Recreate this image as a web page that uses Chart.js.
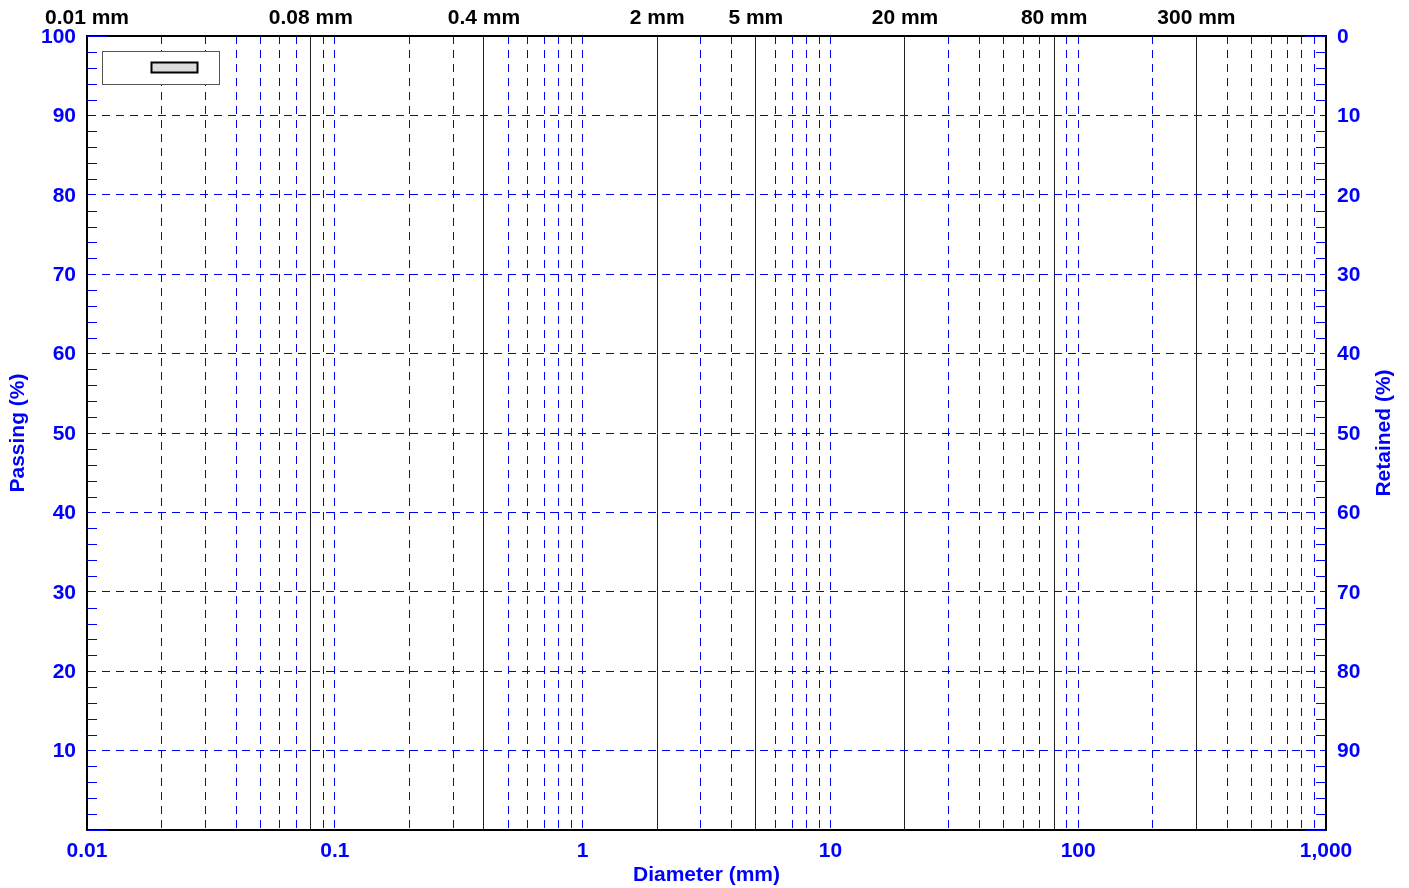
<!DOCTYPE html>
<html>
<head>
<meta charset="utf-8">
<script src="https://cdn.jsdelivr.net/npm/chart.js@4"></script>
<style>
  body { margin: 0; background: #fff; }
  #wrap { width: 1409px; height: 888px; }
</style>
</head>
<body>
<div id="wrap"><canvas id="grading"></canvas></div>
<script>
// sieve sizes marked on top (mm)
const sieveSizes = [0.01, 0.08, 0.4, 2, 5, 20, 80, 300];
const sieveLabels = ['0.01 mm', '0.08 mm', '0.4 mm', '2 mm', '5 mm', '20 mm', '80 mm', '300 mm'];
// decade labels on the diameter axis
const decades = [0.01, 0.1, 1, 10, 100, 1000];
const decadeLabels = ['0.01', '0.1', '1', '10', '100', '1,000'];
// grading curve (no samples plotted)
const diameters = [];
const passing = [];
const retainedTitle = 'Retained (%)';

const BLUE = '#0000ff';
const FONT = { family: 'Arial, "Liberation Sans", sans-serif', size: 21, weight: 'bold' };

// every 1..9 x decade line
let logTicks = [];
for (let d = 0; d < decades.length - 1; d++) {
    for (let k = 1; k <= 9; k++) logTicks.push(+(k * decades[d]).toPrecision(3));
}
logTicks.push(1000);

let pctTicks = [];
for (let v = 0; v <= 100; v += 2) pctTicks.push(v);

function isSieve(v) {
    return sieveSizes.some(s => Math.abs(s - v) / s < 1e-6);
}

// inward tick marks, legend box, right axis title (reads bottom-up)
const frame = {
    id: 'frame',
    afterDraw(chart) {
        const ctx = chart.ctx;
        const a = chart.chartArea;
        const y = chart.scales.y;
        ctx.save();
        ctx.strokeStyle = BLUE;
        ctx.lineWidth = 1;
        pctTicks.forEach(v => {
            const py = Math.round(y.getPixelForValue(v)) + 0.5;
            const len = (v === 0 || v === 100) ? 21 : (v % 10 === 0 ? 0 : 10);
            if (!len) return;
            ctx.beginPath();
            ctx.moveTo(a.left, py); ctx.lineTo(a.left + len, py);
            ctx.moveTo(a.right, py); ctx.lineTo(a.right - len, py);
            ctx.stroke();
        });

        // legend
        const ds = chart.data.datasets[0];
        const lx = a.left + 15.5, ly = a.top + 15.5;
        ctx.fillStyle = '#fff';
        ctx.fillRect(lx, ly, 117, 33);
        ctx.strokeStyle = '#555';
        ctx.lineWidth = 1;
        ctx.strokeRect(lx, ly, 117, 33);
        ctx.fillStyle = ds.backgroundColor;
        ctx.fillRect(lx + 49, ly + 11, 46, 10);
        ctx.strokeStyle = ds.borderColor;
        ctx.lineWidth = 2;
        ctx.strokeRect(lx + 49, ly + 11, 46, 10);

        // right title
        ctx.translate(a.right + 58, (a.top + a.bottom) / 2);
        ctx.rotate(-Math.PI / 2);
        ctx.fillStyle = BLUE;
        ctx.font = 'bold 21px Arial, "Liberation Sans", sans-serif';
        ctx.textAlign = 'center';
        ctx.textBaseline = 'middle';
        ctx.fillText(retainedTitle, 0, 0);
        ctx.restore();
    }
};

new Chart(document.getElementById('grading'), {
    type: 'scatter',
    data: {
        datasets: [{
            label: '',
            data: diameters.map((d, i) => ({ x: d, y: passing[i] })),
            backgroundColor: '#dcdcdc',
            borderColor: '#000',
            showLine: true,
            xAxisID: 'x',
            yAxisID: 'y'
        }]
    },
    options: {
        responsive: true,
        maintainAspectRatio: false,
        animation: false,
        layout: { padding: 0 },
        plugins: {
            legend: { display: false },
            tooltip: { enabled: false }
        },
        scales: {
            x: {
                type: 'logarithmic',
                position: 'bottom',
                min: 0.01,
                max: 1000,
                afterBuildTicks: s => { s.ticks = logTicks.map(v => ({ value: v })); },
                afterFit: s => { s.height = 58; },
                ticks: {
                    autoSkip: false,
                    maxRotation: 0,
                    padding: 9,
                    color: BLUE,
                    font: FONT,
                    callback: v => {
                        const i = decades.findIndex(d => Math.abs(d - v) / d < 1e-6);
                        return i >= 0 ? decadeLabels[i] : '';
                    }
                },
                grid: {
                    drawTicks: false,
                    color: c => isSieve(c.tick.value) ? 'transparent' : BLUE,
                    lineWidth: 1
                },
                border: { color: '#000', width: 2, dash: [8, 6] },
                title: {
                    display: true,
                    text: 'Diameter (mm)',
                    color: BLUE,
                    font: FONT,
                    padding: { top: 0, bottom: 0 }
                }
            },
            xTop: {
                type: 'logarithmic',
                position: 'top',
                min: 0.01,
                max: 1000,
                afterBuildTicks: s => { s.ticks = sieveSizes.map(v => ({ value: v })); },
                afterFit: s => { s.height = 36; },
                ticks: {
                    autoSkip: false,
                    maxRotation: 0,
                    padding: 5,
                    color: '#000',
                    font: FONT,
                    callback: (v, i) => sieveLabels[i]
                },
                grid: { drawTicks: false, color: '#222', lineWidth: 1 },
                border: { color: '#000', width: 2 }
            },
            y: {
                position: 'left',
                min: 0,
                max: 100,
                afterBuildTicks: s => { s.ticks = pctTicks.map(v => ({ value: v })); },
                afterFit: s => { s.width = 87; },
                ticks: {
                    autoSkip: false,
                    padding: 11,
                    labelOffset: 1,
                    color: BLUE,
                    font: FONT,
                    callback: v => (v % 10 === 0 && v > 0) ? String(v) : ''
                },
                grid: {
                    drawTicks: false,
                    color: c => (c.tick.value % 10 === 0 && c.tick.value > 0 && c.tick.value < 100) ? BLUE : 'transparent'
                },
                border: { color: '#000', width: 2, dash: [8, 6] },
                title: {
                    display: true,
                    text: 'Passing (%)',
                    color: BLUE,
                    font: FONT,
                    padding: { top: 6, bottom: 0 }
                }
            },
            yRight: {
                position: 'right',
                min: 0,
                max: 100,
                reverse: true,
                afterBuildTicks: s => { s.ticks = pctTicks.map(v => ({ value: v })); },
                afterFit: s => { s.width = 83; },
                ticks: {
                    autoSkip: false,
                    padding: 11,
                    labelOffset: 1,
                    color: BLUE,
                    font: FONT,
                    callback: v => (v % 10 === 0 && v < 100) ? String(v) : ''
                },
                grid: { drawTicks: false, drawOnChartArea: false },
                border: { color: '#000', width: 2 }
            }
        }
    },
    plugins: [frame]
});
</script>
</body>
</html>
